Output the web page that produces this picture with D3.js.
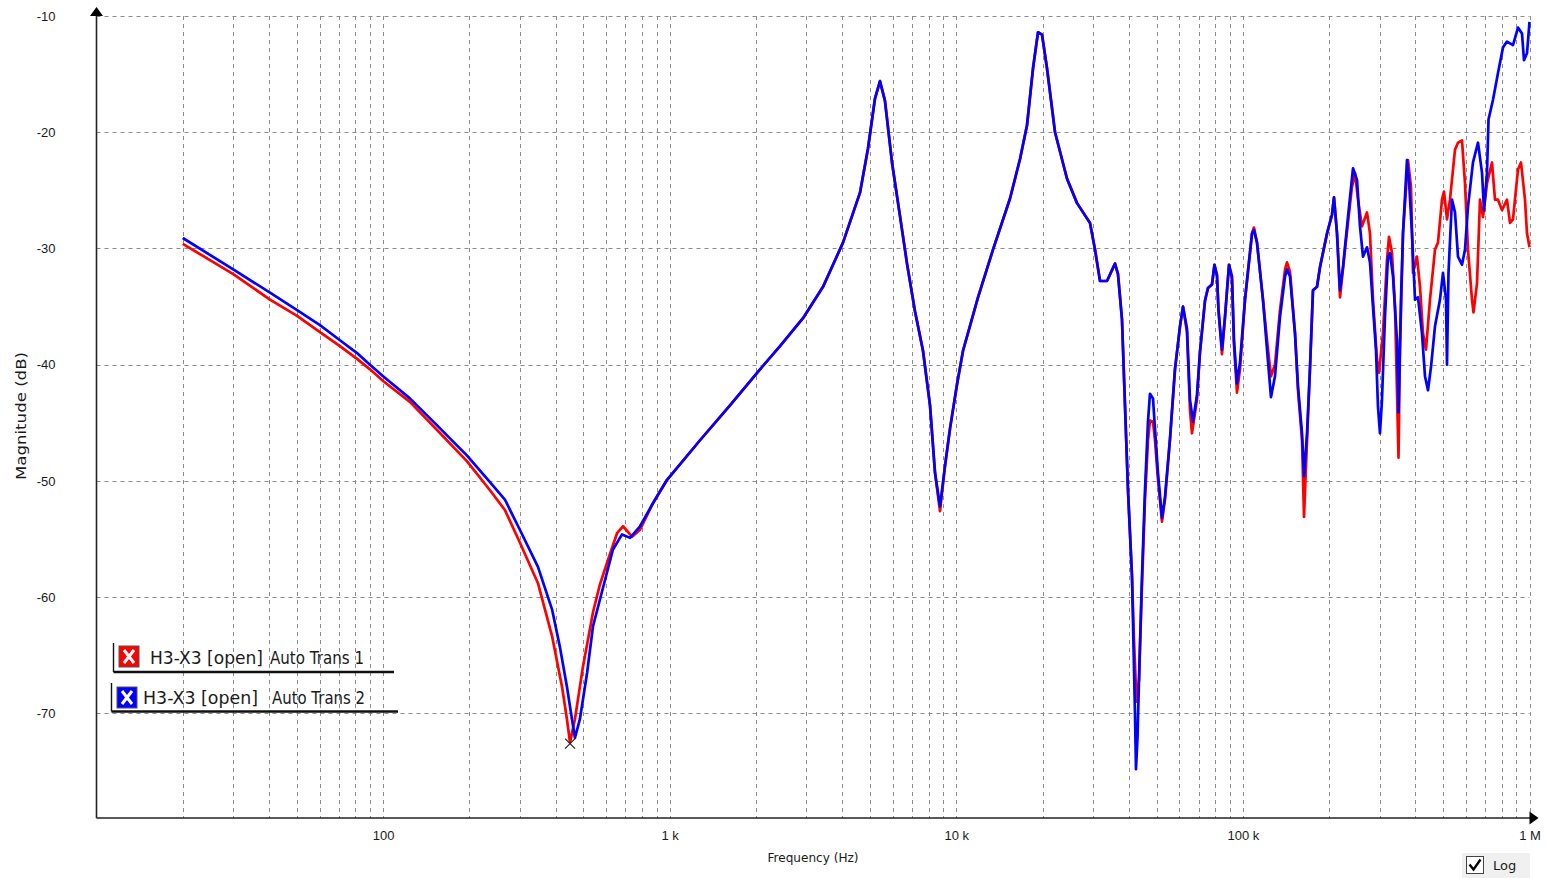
<!DOCTYPE html>
<html>
<head>
<meta charset="utf-8">
<script src="https://cdn.jsdelivr.net/npm/d3@7"></script>
<style>
  html, body { margin: 0; padding: 0; background: #fff; }
  svg { display: block; }
  text { font-family: "DejaVu Sans", Verdana, sans-serif; fill: #1a1a1a; }
</style>
</head>
<body>
<svg id="chart" width="1547" height="878"></svg>
<script>
// Frequency response, two traces (Hz, dB)
const blueFreq = [20,30,40.3,50.1,60.2,70.7,81.1,90,100,124,154,196,236,266,300,347,389,414,438,456,467,486,515,540,595,634,682,727,788,875,979,
  1276,1623,2066,2426,2918,3427,4024,4613,4919,5203,5416,5638,5965,6360,6730,7175,7653,8096,8428,8773,9133,9506,10056,10554,11906,13430,15397,16685,17650,18522,19281,19910,20724,22103,24341,26379,29279,30479,31725,33560,35785,36659,37855,
  38779,39725,41021,41518,42021,42360,42874,43568,44451,45535,46645,47400,48557,49344,50546,52198,53470,55661,57944,60320,61791,63810,65365,66960,69146,70835,73737,75534,78003,79585,81200,82185,84532,86595,89427,91608,93089,95362,97690,
  101700,107600,109300,112000,117500,121400,125300,129400,134700,140300,142500,146000,152000,155700,160800,163400,167400,171500,175600,181400,185800,196600,204600,207900,213000,218200,223500,232600,242200,250100,256200,262400,271000,277600,284400,291300,296000,300800,305700,313100,320800,326000,334000,344900,349100,356100,361900,373700,379700,389000,398600,408300,421600,431900,442400,453200,468000,487200,499100,511300,515400,521600,536500,549600,563000,581400,595600,610100,635100,661200,682800,693800,710800,719400,745900,776400,808200,834600,875800,911700,941400,956700,980100,1000000];
const blueDb = [-29.1,-31.8,-33.8,-35.3,-36.6,-37.9,-39.0,-40.0,-41.0,-42.9,-45.2,-47.8,-50.1,-51.6,-54.2,-57.4,-61.1,-64.3,-67.7,-70.5,-72.1,-70.5,-66.5,-62.5,-58.5,-55.9,-54.6,-54.9,-53.9,-51.9,-49.9,
  -46.5,-43.5,-40.4,-38.4,-36.0,-33.3,-29.5,-25.2,-21.4,-17.1,-15.6,-17.3,-22.6,-27.2,-31.3,-35.4,-38.8,-43.5,-49.3,-52.2,-48.7,-45.5,-41.7,-38.8,-34.2,-30.1,-25.7,-22.3,-19.4,-14.5,-11.4,-11.6,-14.5,-20.0,-24.0,-26.1,-27.8,-30.1,-32.8,-32.8,-31.3,-32.2,-36.1,
  -43.5,-50.8,-58.2,-64.1,-70.0,-74.8,-72.1,-65.6,-58.2,-50.8,-44.9,-42.5,-42.9,-45.5,-49.3,-53.2,-51.4,-46.4,-40.4,-36.7,-35.0,-36.9,-43.0,-44.9,-42.6,-38.9,-34.5,-33.4,-33.1,-31.4,-32.3,-35.3,-38.7,-35.9,-31.4,-32.4,-37.9,-41.6,-39.8,
  -34.4,-28.7,-28.4,-29.5,-34.4,-38.7,-42.8,-41.0,-35.9,-32.4,-31.8,-32.4,-37.3,-41.9,-45.9,-49.6,-45.9,-40.2,-33.6,-33.3,-31.6,-28.7,-27.1,-25.6,-28.7,-33.6,-31.6,-27.3,-23.1,-24.1,-28.1,-30.7,-29.9,-31.2,-35.0,-38.7,-43.6,-45.9,-43.0,-35.9,-30.7,-30.4,-32.4,-37.9,-44.1,-34.4,-28.7,-22.4,-24.1,-28.7,-34.4,-34.2,-37.3,-41.0,-42.2,-40.2,-36.7,-34.4,-32.1,-34.4,-40.0,-32.1,-25.8,-26.9,-30.7,-31.4,-30.1,-26.4,-22.6,-20.9,-23.5,-26.7,-23.5,-18.9,-17.2,-14.9,-12.7,-12.2,-12.5,-11.0,-11.5,-13.8,-13.2,-10.5];

const redFreq = [20,30,40.3,50.1,60.2,70.7,81.1,90,100,124,154,196,236,266,300,347,389,421,438,449,467,498,540,571,609,655,687,739,788,875,979,
  1276,1623,2066,2426,2918,3427,4024,4613,4919,5203,5416,5638,5965,6360,6730,7175,7653,8096,8428,8773,9133,9506,10056,10554,11906,13430,15397,16685,17650,18522,19281,19910,20724,22103,24341,26379,29279,30479,31725,33560,35785,36659,37855,
  38779,39725,41021,41690,42540,43400,44280,45535,46645,47400,48557,49344,50546,52198,53470,55661,57944,60320,61791,63810,65365,66430,69146,70835,73737,75534,78003,79585,81200,82185,84532,86595,89427,91608,93089,95362,97690,
  101700,107600,109300,112000,117500,121400,125300,129400,134700,140300,142500,146000,152000,155700,160800,163400,167400,171500,175600,181400,185800,196600,204600,207900,213000,218200,227100,240200,246100,252100,260300,271000,277600,284400,293700,298400,308100,318200,323400,331300,339400,344900,349100,353300,361900,376700,385900,392200,405000,414900,425000,435400,449600,468000,479400,495100,503100,515400,527900,549600,563000,581400,595600,610100,630000,637700,655900,671900,688300,710800,739900,757900,776400,801700,834600,855000,875800,911700,933900,964400,980100,1000000];
const redDb = [-29.6,-32.2,-34.4,-35.8,-37.2,-38.4,-39.5,-40.4,-41.4,-43.2,-45.6,-48.3,-50.8,-52.5,-55.3,-58.8,-63.4,-67.7,-70.5,-72.5,-70.5,-66.0,-61.3,-58.9,-56.8,-54.5,-53.9,-54.8,-54.2,-51.9,-49.9,
  -46.5,-43.5,-40.4,-38.4,-36.0,-33.3,-29.5,-25.2,-21.4,-17.1,-15.6,-17.3,-22.6,-27.2,-31.3,-35.4,-38.8,-43.5,-49.3,-52.6,-48.7,-45.5,-41.7,-38.8,-34.2,-30.1,-25.7,-22.3,-19.4,-14.5,-11.4,-11.6,-14.5,-20.0,-24.0,-26.1,-27.8,-30.1,-32.8,-32.8,-31.3,-32.2,-36.1,
  -43.5,-50.8,-58.2,-63.7,-69.0,-67.1,-60.2,-51.6,-46.5,-44.8,-44.9,-46.5,-49.9,-53.5,-51.6,-46.4,-40.4,-36.7,-35.0,-37.2,-43.9,-45.9,-43.0,-38.9,-34.5,-33.4,-33.1,-31.4,-32.3,-35.3,-39.1,-35.9,-31.4,-32.7,-38.3,-42.4,-40.4,
  -34.4,-28.7,-28.2,-29.5,-34.4,-37.9,-41.0,-40.0,-35.3,-31.8,-31.2,-32.0,-37.3,-42.2,-46.5,-53.1,-46.5,-40.2,-33.6,-33.3,-31.6,-28.7,-27.1,-25.6,-28.7,-34.2,-30.1,-24.7,-23.5,-25.8,-28.1,-26.9,-28.7,-34.4,-39.6,-40.7,-37.3,-31.0,-29.0,-30.4,-35.0,-42.4,-48.0,-38.7,-28.7,-22.4,-24.7,-32.1,-30.7,-33.3,-37.3,-38.7,-34.4,-30.1,-29.5,-25.8,-25.1,-27.5,-25.8,-21.5,-20.9,-20.7,-24.4,-30.1,-34.4,-35.5,-33.0,-25.8,-27.3,-24.4,-22.6,-25.8,-25.8,-26.7,-25.8,-27.8,-27.5,-23.2,-22.6,-25.8,-28.7,-29.9];

const yTicks = [-10, -20, -30, -40, -50, -60, -70];
const xLabelTicks = [100, 1e3, 1e4, 1e5, 1e6];
const xLabelText = ["100", "1 k", "10 k", "100 k", "1 M"];
const legendNames = ["H3-X3 [open]", "H3-X3 [open]"];
const legendTests = ["Auto Trans 1", "Auto Trans 2"];
const seriesColors = ["#ff0000", "#0000ff"];
const markerFreq = 449, markerDb = -72.6;

const svg = d3.select("#chart");

const x = d3.scaleLog().domain([10, 1e6]).range([96.5, 1529.5]);
const y = d3.scaleLinear().domain([-79, -10]).range([818, 16]);

// grid
const grid = svg.append("g")
    .attr("stroke", "#8c8c8c")
    .attr("stroke-width", 1)
    .attr("stroke-dasharray", "4,4");

grid.selectAll("line.v")
    .data(x.ticks().filter(d => d > 10))
    .enter().append("line")
    .attr("x1", d => Math.round(x(d)) + 0.5)
    .attr("x2", d => Math.round(x(d)) + 0.5)
    .attr("y1", y(-10))
    .attr("y2", y(-79));

grid.selectAll("line.h")
    .data(yTicks)
    .enter().append("line")
    .attr("x1", x(10))
    .attr("x2", x(1e6))
    .attr("y1", d => Math.round(y(d)) + 0.5)
    .attr("y2", d => Math.round(y(d)) + 0.5);

// tick labels
const yAxis = svg.append("g")
    .attr("transform", `translate(${x(10)},0)`)
    .call(d3.axisLeft(y).tickValues(yTicks).tickSize(0).tickPadding(41).tickFormat(d => String(d)));
yAxis.select(".domain").remove();
yAxis.selectAll("text")
    .style("font-family", "Liberation Sans, Arial, sans-serif")
    .style("font-size", "13px")
    .attr("fill", "#1a1a1a");

const xAxis = svg.append("g")
    .attr("transform", `translate(0,${y(-79)})`)
    .call(d3.axisBottom(x).tickValues(xLabelTicks).tickSize(0).tickPadding(13)
        .tickFormat((d, i) => xLabelText[i]));
xAxis.select(".domain").remove();
xAxis.selectAll("text")
    .style("font-family", "Liberation Sans, Arial, sans-serif")
    .style("font-size", "13px")
    .attr("fill", "#1a1a1a");

// axis lines with arrows
svg.append("line")
    .attr("x1", x(10)).attr("x2", x(10))
    .attr("y1", y(-10) - 2).attr("y2", y(-79))
    .attr("stroke", "#222").attr("stroke-width", 1.6);
svg.append("line")
    .attr("x1", x(10)).attr("x2", x(1e6) + 2)
    .attr("y1", y(-79)).attr("y2", y(-79))
    .attr("stroke", "#222").attr("stroke-width", 1.6);
svg.append("path")
    .attr("d", `M${x(10)},${y(-10) - 9} L${x(10) - 6.5},${y(-10)} L${x(10) + 6.5},${y(-10)} Z`)
    .attr("fill", "#000");
svg.append("path")
    .attr("d", `M${x(1e6) + 9},${y(-79)} L${x(1e6)},${y(-79) - 6.5} L${x(1e6)},${y(-79) + 6.5} Z`)
    .attr("fill", "#000");

// axis titles
svg.append("text")
    .attr("x", 813).attr("y", 862)
    .attr("text-anchor", "middle")
    .attr("textLength", 91).attr("lengthAdjust", "spacingAndGlyphs")
    .style("font-size", "12px")
    .text("Frequency (Hz)");

svg.append("text")
    .attr("transform", "translate(26,416) rotate(-90)")
    .attr("text-anchor", "middle")
    .attr("textLength", 128).attr("lengthAdjust", "spacingAndGlyphs")
    .style("font-size", "14px")
    .text("Magnitude (dB)");

// traces
const line = d3.line()
    .x(d => x(d[0]))
    .y(d => y(d[1]));

const redData = d3.zip(redFreq, redDb);
const blueData = d3.zip(blueFreq, blueDb);

svg.append("path")
    .datum(redData)
    .attr("d", line)
    .attr("fill", "none")
    .attr("stroke", seriesColors[0])
    .attr("stroke-width", 2.7)
    .attr("stroke-linejoin", "round");

svg.append("path")
    .datum(blueData)
    .attr("d", line)
    .attr("fill", "none")
    .attr("stroke", seriesColors[1])
    .attr("stroke-width", 2.7)
    .attr("stroke-linejoin", "round");

// minimum marker
const mx = x(markerFreq), my = y(markerDb);
svg.append("path")
    .attr("d", `M${mx - 5},${my - 5} L${mx + 5},${my + 5} M${mx + 5},${my - 5} L${mx - 5},${my + 5}`)
    .attr("stroke", "#222").attr("stroke-width", 1.2);

// legend
const legendRows = [
    { lx: 113.5, top: 643, bottom: 672, right: 394, bx: 119, by: 646, bw: 20, bh: 21, t1x: 150, t2x: 270, base: 664, w1: 113, w2: 94 },
    { lx: 111.5, top: 683, bottom: 711.5, right: 398, bx: 117, by: 687, bw: 20, bh: 21, t1x: 143, t2x: 272, base: 704, w1: 115, w2: 93 }
];

legendRows.forEach((r, i) => {
    const g = svg.append("g");
    g.append("line")
        .attr("x1", r.lx).attr("x2", r.lx).attr("y1", r.top).attr("y2", r.bottom)
        .attr("stroke", "#111").attr("stroke-width", 1.4);
    g.append("line")
        .attr("x1", r.lx).attr("x2", r.right).attr("y1", r.bottom).attr("y2", r.bottom)
        .attr("stroke", "#111").attr("stroke-width", 2.4);
    g.append("rect")
        .attr("x", r.bx).attr("y", r.by).attr("width", r.bw).attr("height", r.bh)
        .attr("fill", seriesColors[i]).attr("stroke", "#555").attr("stroke-width", 1);
    g.append("path")
        .attr("d", `M${r.bx + 5},${r.by + 4} L${r.bx + r.bw - 5},${r.by + r.bh - 4} M${r.bx + r.bw - 5},${r.by + 4} L${r.bx + 5},${r.by + r.bh - 4}`)
        .attr("stroke", "#fff").attr("stroke-width", 3);
    g.append("text")
        .attr("x", r.t1x).attr("y", r.base)
        .attr("textLength", r.w1).attr("lengthAdjust", "spacingAndGlyphs")
        .style("font-size", "17px")
        .text(legendNames[i]);
    g.append("text")
        .attr("x", r.t2x).attr("y", r.base)
        .attr("textLength", r.w2).attr("lengthAdjust", "spacingAndGlyphs")
        .style("font-size", "17px")
        .attr("fill", "#2a2216")
        .text(legendTests[i]);
});

// Log checkbox
const cb = svg.append("g");
cb.append("rect").attr("x", 1462).attr("y", 853).attr("width", 68).attr("height", 25).attr("fill", "#f0f0f0");
cb.append("rect").attr("x", 1466.5).attr("y", 856.5).attr("width", 17).attr("height", 17)
    .attr("fill", "#fff").attr("stroke", "#444").attr("stroke-width", 1);
cb.append("path").attr("d", "M1469.5,864.5 L1473.5,869.5 L1480.5,859.5")
    .attr("fill", "none").attr("stroke", "#000").attr("stroke-width", 2.4);
cb.append("text").attr("x", 1493).attr("y", 870).style("font-size", "13px").text("Log");
</script>
</body>
</html>
